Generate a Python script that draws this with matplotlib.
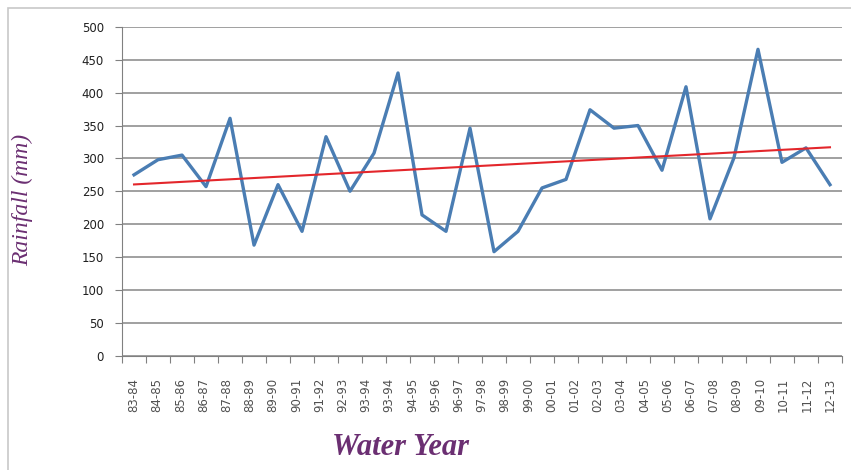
import numpy as np
import matplotlib
matplotlib.use("Agg")
import matplotlib.pyplot as plt
from matplotlib.patches import Rectangle

# Water years as printed under the axis (the source repeats 93-94)
year_labels = ['83-84', '84-85', '85-86', '86-87', '87-88', '88-89', '89-90',
               '90-91', '91-92', '92-93', '93-94', '93-94', '94-95', '95-96',
               '96-97', '97-98', '98-99', '99-00', '00-01', '01-02', '02-03',
               '03-04', '04-05', '05-06', '06-07', '07-08', '08-09', '09-10',
               '10-11', '11-12', '12-13']

# Annual rainfall (mm)
rainfall = [275, 298, 305, 257, 361, 168, 260, 189, 333, 250, 308, 430, 214,
            189, 346, 158, 189, 255, 268, 374, 346, 350, 282, 409, 208, 301,
            466, 294, 316, 260]

purple = '#6b2f72'
x = np.arange(len(rainfall))

fig = plt.figure(figsize=(8.51, 4.70), dpi=100)
ax = fig.add_axes([0.1434, 0.2436, 0.846, 0.699])

ax.plot(x, rainfall, color='#4a7db3', lw=2.4, zorder=3)

# linear trend line
slope, intercept = np.polyfit(x, rainfall, 1)
ax.plot(x, slope * x + intercept, color='#e3262b', lw=1.5, zorder=4)

ax.set_xlim(-0.5, len(rainfall) - 0.5)
ax.set_ylim(0, 500)
ax.set_yticks(range(0, 501, 50))
ax.grid(axis='y', color='#999999', lw=1.3)
ax.set_axisbelow(True)

# category boundaries as tick marks, labels spread over the data span
ax.set_xticks(np.arange(-0.5, len(rainfall), 1.0))
ax.set_xticklabels([])
ax.tick_params(axis='x', direction='out', length=5, color='#808080')
label_pos = np.linspace(0, len(rainfall) - 1, len(year_labels))
for pos, lab in zip(label_pos, year_labels):
    ax.text(pos, -0.068, lab, transform=ax.get_xaxis_transform(),
            rotation=90, ha='center', va='top', fontsize=8.5, color='#505050')

ax.tick_params(axis='y', direction='out', length=5, color='#808080',
               labelsize=8.5, labelcolor='#202020', pad=8)

for side in ['top', 'right']:
    ax.spines[side].set_visible(False)
ax.spines['left'].set_color('#808080')
ax.spines['bottom'].set_color('#808080')

fig.text(0.027, 0.575, 'Rainfall (mm)', rotation=90, ha='center', va='center',
         fontsize=17, style='italic', family='Liberation Serif', color=purple)
fig.text(0.471, 0.047, 'Water Year', ha='center', va='center', fontsize=22,
         style='italic', weight='bold', family='Liberation Serif', color=purple)

# light chart border
fig.patches.append(Rectangle((0.009, -0.01), 1.0, 0.993, transform=fig.transFigure,
                             fill=False, edgecolor='#c8c8c8', lw=1.2))

fig.savefig('out.png', dpi=100)
